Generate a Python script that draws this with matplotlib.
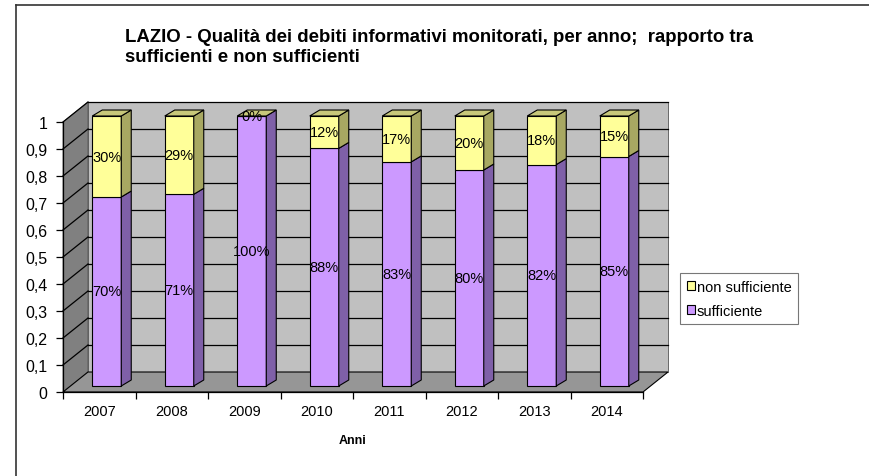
import numpy as np
import matplotlib
matplotlib.use("Agg")
import matplotlib.pyplot as plt
from matplotlib.patches import Polygon, Patch
from matplotlib.lines import Line2D

plt.rcParams['font.family'] = ['Liberation Sans', 'DejaVu Sans']

# dati
anni = ['2007', '2008', '2009', '2010', '2011', '2012', '2013', '2014']
sufficiente = [0.70, 0.71, 1.00, 0.88, 0.83, 0.80, 0.82, 0.85]
non_sufficiente = [0.30, 0.29, 0.00, 0.12, 0.17, 0.20, 0.18, 0.15]
etich_suff = ['70%', '71%', '100%', '88%', '83%', '80%', '82%', '85%']
etich_non = ['30%', '29%', '0%', '12%', '17%', '20%', '18%', '15%']
y_ticks = np.arange(0, 1.01, 0.1)

W, H = 869, 477
fig = plt.figure(figsize=(W / 100, H / 100), dpi=100)
fig.patch.set_facecolor('white')

# cornice del grafico
fig.add_artist(Line2D([16 / W, 16 / W], [0, 1 - 6 / H], transform=fig.transFigure,
                      color='#333333', lw=1.2))
fig.add_artist(Line2D([16 / W, 1], [1 - 6 / H, 1 - 6 / H], transform=fig.transFigure,
                      color='#333333', lw=1.2))

ax = fig.add_axes([63 / W, (H - 393) / H, 580 / W, 270 / H])
ax.set_xlim(-0.5, 7.5)
ax.set_ylim(0, 1)
ax.patch.set_alpha(0)

# profondità 3D in unità dati
ddx, ddy = 25 / 72.5, 20 / 270
x0, x1 = -0.5, 7.5

def poly(pts, fc, ec='black', lw=0.8, z=1):
    ax.add_patch(Polygon(pts, closed=True, facecolor=fc, edgecolor=ec, lw=lw,
                         zorder=z, clip_on=False))

# pareti e pavimento
poly([(x0 + ddx, ddy), (x1 + ddx, ddy), (x1 + ddx, 1 + ddy), (x0 + ddx, 1 + ddy)],
     '#c0c0c0', ec='#555555', lw=0.6, z=0)
poly([(x0, 0), (x0 + ddx, ddy), (x0 + ddx, 1 + ddy), (x0, 1)], '#808080',
     ec='#555555', lw=0.6, z=0)
poly([(x0, 0), (x1, 0), (x1 + ddx, ddy), (x0 + ddx, ddy)], '#969696',
     ec='black', lw=0.8, z=0.5)

for v in y_ticks[1:]:
    ax.plot([x0 + ddx, x1 + ddx], [v + ddy, v + ddy], color='black', lw=0.9,
            zorder=0.3, clip_on=False)
    ax.plot([x0, x0 + ddx], [v, v + ddy], color='black', lw=0.9,
            zorder=0.3, clip_on=False)

# barre
f = 0.3
fdx, fdy = f * ddx, f * ddy
bw = 0.4
sdx, sdy = 10 / 72.5, 6 / 270
xs = np.arange(len(anni)) + fdx
suff = np.array(sufficiente)
nons = np.array(non_sufficiente)

ax.bar(xs, suff, bottom=fdy, width=bw, color='#cc99ff', edgecolor='black',
       lw=0.8, zorder=2, clip_on=False)
ax.bar(xs, nons, bottom=fdy + suff, width=bw, color='#ffff99', edgecolor='black',
       lw=0.8, zorder=2, clip_on=False)

for xc, s, n in zip(xs, suff, nons):
    r = xc + bw / 2
    l = xc - bw / 2
    # lati
    poly([(r, fdy), (r + sdx, fdy + sdy), (r + sdx, fdy + s + sdy), (r, fdy + s)],
         '#7f60a8', z=2)
    if n > 0:
        poly([(r, fdy + s), (r + sdx, fdy + s + sdy), (r + sdx, fdy + s + n + sdy),
              (r, fdy + s + n)], '#a8a862', z=2)
    top = fdy + s + n
    poly([(l, top), (r, top), (r + sdx, top + sdy), (l + sdx, top + sdy)],
         '#c8c87a', z=2)

# etichette percentuali
for xc, s, n, es, en in zip(xs, suff, nons, etich_suff, etich_non):
    ax.text(xc, fdy + s / 2, es, ha='center', va='center', fontsize=10.5, zorder=5)
    ax.text(xc, fdy + s + n / 2, en, ha='center', va='center', fontsize=10.5, zorder=5)

# assi
for sp in ['top', 'right']:
    ax.spines[sp].set_visible(False)
ax.spines['left'].set_linewidth(0.9)
ax.spines['bottom'].set_linewidth(0.9)
ax.set_yticks(y_ticks)
ax.set_yticklabels([('%g' % round(v, 1)).replace('.', ',') for v in y_ticks],
                   fontsize=11.5)
ax.tick_params(axis='y', length=5, width=0.9, pad=6)
ax.set_xticks(np.arange(-0.5, 8, 1))
ax.set_xticklabels([])
ax.set_xticks(np.arange(len(anni)), minor=True)
ax.set_xticklabels(anni, minor=True, fontsize=10.5)
ax.tick_params(axis='x', which='major', length=5, width=0.9)
ax.tick_params(axis='x', which='minor', length=0, pad=9)
ax.set_xlabel('Anni', fontsize=9, fontweight='bold', labelpad=11)

# legenda
handles = [Patch(facecolor='#ffff99', edgecolor='black', lw=0.8, label='non sufficiente'),
           Patch(facecolor='#cc99ff', edgecolor='black', lw=0.8, label='sufficiente')]
leg = fig.legend(handles=handles, loc='upper left',
                 bbox_to_anchor=(680 / W, 1 - 274 / H), fontsize=10.5, frameon=True,
                 fancybox=False, edgecolor='#555555', handlelength=0.55,
                 handleheight=0.55, handletextpad=0.15, borderpad=0.45,
                 labelspacing=0.7, borderaxespad=0)
leg.get_frame().set_linewidth(0.8)

# titolo
fig.text(125 / W, 1 - 29 / H,
         'LAZIO - Qualità dei debiti informativi monitorati, per anno;  rapporto tra\n'
         'sufficienti e non sufficienti',
         ha='left', va='top', fontsize=13.4, fontweight='bold', linespacing=1.25)

fig.savefig('out.png', dpi=100)
